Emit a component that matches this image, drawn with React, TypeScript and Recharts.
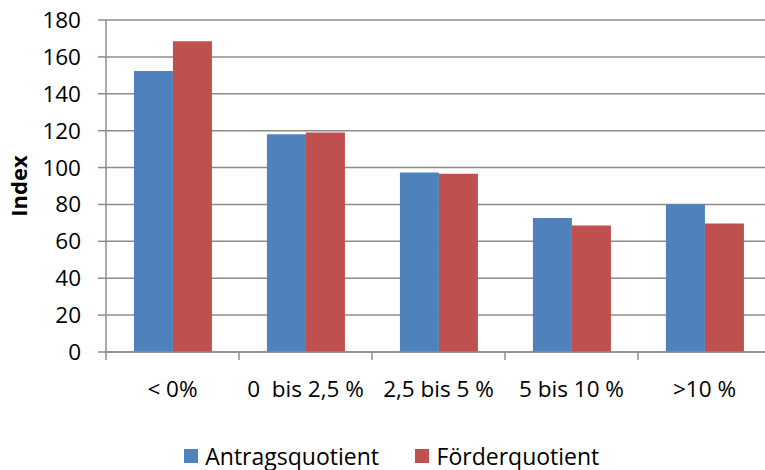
import React from 'react';
import { BarChart, Bar, XAxis, YAxis, CartesianGrid, Legend } from 'recharts';

const categories = ['< 0%', '0  bis 2,5 %', '2,5 bis 5 %', '5 bis 10 %', '>10 %'];
const antragsquotient = [152.3, 118, 97.3, 72.7, 80.1];
const foerderquotient = [168.5, 119, 96.6, 68.6, 69.7];
const seriesNames = ['Antragsquotient', 'Förderquotient'];
const yTicks = [0, 20, 40, 60, 80, 100, 120, 140, 160, 180];

const data = categories.map((c, i) => ({
  category: c,
  a: antragsquotient[i],
  f: foerderquotient[i],
}));

const FONT = '"Open Sans", sans-serif';
const GRID = '#8c8c8c';
const BLUE = '#4F81BD';
const RED = '#C0504D';
const TICK_SIZE = 8;
const X_TICK_MARGIN = 21;

function XTick(props: any) {
  const { x, y, payload, index } = props;
  const half = payload.offset || 0;
  const axisY = y - TICK_SIZE - X_TICK_MARGIN;
  const isLast = index === categories.length - 1;
  return (
    <g>
      <line x1={x - half} x2={x - half} y1={axisY} y2={axisY + TICK_SIZE} stroke={GRID} strokeWidth={1.5} />
      {isLast && (
        <line x1={x + half} x2={x + half} y1={axisY} y2={axisY + TICK_SIZE} stroke={GRID} strokeWidth={1.5} />
      )}
      <text
        x={x}
        y={y}
        dy="0.71em"
        textAnchor="middle"
        fill="#000"
        fontSize={22.5}
        fontFamily={FONT}
        style={{ whiteSpace: 'pre' }}
      >
        {payload.value}
      </text>
    </g>
  );
}

function LegendContent(props: any) {
  const { payload } = props;
  return (
    <div
      style={{
        display: 'flex',
        justifyContent: 'center',
        alignItems: 'center',
        fontFamily: FONT,
        fontSize: 23,
        lineHeight: '22px',
        height: 22,
        color: '#000',
      }}
    >
      {(payload || []).map((p: any, i: number) => (
        <div key={i} style={{ display: 'flex', alignItems: 'center', marginLeft: i ? 36 : 0, height: 22 }}>
          <span
            style={{
              width: 14,
              height: 14,
              background: p.color,
              marginRight: 7.6,
              display: 'inline-block',
            }}
          />
          <span style={{ display: 'inline-block', height: 22, lineHeight: '22px', overflow: 'visible' }}>
            {p.value}
          </span>
        </div>
      ))}
    </div>
  );
}

export default function App() {
  return (
    <div
      style={{
        position: 'fixed',
        top: 0,
        left: 0,
        width: 765,
        height: 470,
        overflow: 'hidden',
        background: '#fff',
      }}
    >
      <BarChart
        width={776}
        height={470}
        data={data}
        margin={{ top: 20, right: 5, left: 0, bottom: 58 }}
        barCategoryGap="21%"
        barGap={0}
      >
        <CartesianGrid horizontal vertical={false} stroke={GRID} strokeWidth={1.5} />
        <XAxis
          dataKey="category"
          height={60}
          interval={0}
          tickSize={TICK_SIZE}
          tickMargin={X_TICK_MARGIN}
          tickLine={false}
          axisLine={{ stroke: GRID, strokeWidth: 1.5 }}
          tick={<XTick />}
        />
        <YAxis
          width={106}
          domain={[0, 180]}
          ticks={yTicks}
          interval={0}
          tickSize={8}
          tickMargin={17}
          axisLine={{ stroke: GRID, strokeWidth: 1.5 }}
          tickLine={{ stroke: GRID, strokeWidth: 1.5 }}
          tick={{ fill: '#000', fontSize: 22.5, fontFamily: FONT }}
          label={{
            value: 'Index',
            angle: -90,
            position: 'center',
            dx: -34,
            style: { fontWeight: 'bold', fontSize: 22, fontFamily: FONT, fill: '#000' },
          }}
        />
        <Legend
          layout="horizontal"
          verticalAlign="middle"
          align="center"
          wrapperStyle={{ top: 445, left: 18, width: 747, height: 22 }}
          content={<LegendContent />}
        />
        <Bar dataKey="a" name={seriesNames[0]} fill={BLUE} isAnimationActive={false} />
        <Bar dataKey="f" name={seriesNames[1]} fill={RED} isAnimationActive={false} />
      </BarChart>
    </div>
  );
}
